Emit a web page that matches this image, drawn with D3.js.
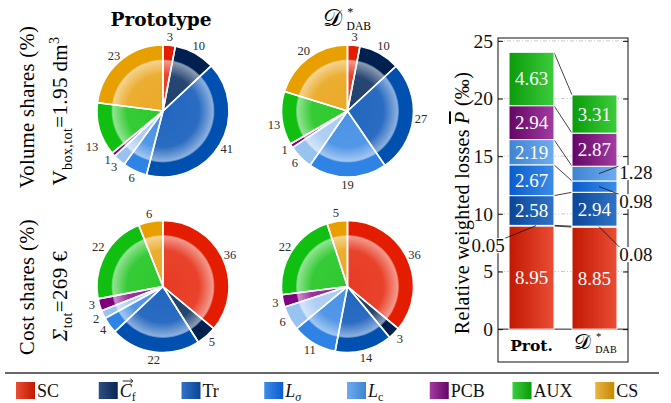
<!DOCTYPE html>
<html><head><meta charset="utf-8">
<script src="https://cdn.jsdelivr.net/npm/d3@7/dist/d3.min.js"></script>
<style>
body{margin:0;background:#fff;}
</style></head><body>
<svg id="chart" width="671" height="403"></svg>
<script>
// Components of the converter (shared by pies, bars and legend)
const components = ["SC", "Cf", "Tr", "Lsigma", "Lc", "PCB", "AUX", "CS"];

// Volume shares (%)
const volumeProt = [3, 10, 41, 6, 3, 1, 13, 23];
const volumeDab  = [3, 10, 27, 19, 6, 1, 13, 20];

// Cost shares (%)
const costProt = [36, 5, 22, 4, 2, 3, 22, 6];
const costDab  = [36, 3, 14, 11, 6, 3, 22, 5];

// Relative weighted losses (per mille), stacked bottom to top (SC … AUX)
const lossProt = [8.95, 0.05, 2.58, 2.67, 2.19, 2.94, 4.63];
const lossDab  = [8.85, 0.08, 2.94, 0.98, 1.28, 2.87, 3.31];

const designs = ["prot", "dab"];
const lossTicks = [0, 5, 10, 15, 20, 25];

// ---- styling ----
const SERIF = "'Liberation Serif','DejaVu Serif',serif";
const ringColor = {SC:"#e41c00", Cf:"#00214f", Tr:"#0050b0", Lsigma:"#2f83e4", Lc:"#98c2f0", PCB:"#7e007e", AUX:"#10bf10", CS:"#e8a000"};
const faceColor = {SC:"#e83b23", Cf:"#1e3f6d", Tr:"#2166bf", Lsigma:"#4b93e6", Lc:"#aacdf3", PCB:"#97289a", AUX:"#2ec92e", CS:"#ebaa28"};
const barDark   = {SC:"#c21801", Cf:"#0b2752", Tr:"#0a4597", Lsigma:"#0a5ccc", Lc:"#3f84d0", PCB:"#640564", AUX:"#0a9a0a", CS:"#c58800"};
const barLight  = {SC:"#ea4d35", Cf:"#2c4f82", Tr:"#3073c6", Lsigma:"#3c8ce8", Lc:"#6eacf0", PCB:"#a23ca2", AUX:"#3ccd3c", CS:"#ebb445"};

const svg = d3.select("#chart").attr("font-family", SERIF).style("font-family", SERIF);
const defs = svg.append("defs");

components.forEach(c => {
  const gb = defs.append("linearGradient").attr("id", "bar-" + c).attr("x1", 0).attr("x2", 1).attr("y1", 0).attr("y2", 0);
  gb.append("stop").attr("offset", 0).attr("stop-color", barDark[c]);
  gb.append("stop").attr("offset", 1).attr("stop-color", barLight[c]);
  const gl = defs.append("linearGradient").attr("id", "leg-" + c).attr("x1", 0).attr("x2", 1).attr("y1", 0).attr("y2", 0);
  gl.append("stop").attr("offset", 0).attr("stop-color", barLight[c]);
  gl.append("stop").attr("offset", 1).attr("stop-color", barDark[c]);
});

const gloss = defs.append("radialGradient").attr("id", "gloss");
[[0, 0], [0.7, 0.04], [0.9, 0.36], [0.97, 0.48], [1, 0.15]].forEach(([o, a]) =>
  gloss.append("stop").attr("offset", o).attr("stop-color", "#fff").attr("stop-opacity", a));

// ---- pies ----
const R = 66;
const pie = d3.pie().sort(null).value(d => d);
const arcOuter = d3.arc().innerRadius(0).outerRadius(R);
const arcFace = d3.arc().innerRadius(0).outerRadius(R * 0.78);
const arcLabel = d3.arc().innerRadius(74).outerRadius(74);

function drawPie(cx, cy, values, nudge) {
  const g = svg.append("g").attr("transform", `translate(${cx},${cy})`);
  const arcs = pie(values);
  g.selectAll("path.ring").data(arcs).join("path").attr("class", "ring")
    .attr("d", arcOuter).attr("fill", (d, i) => ringColor[components[i]]);
  g.selectAll("path.face").data(arcs).join("path").attr("class", "face")
    .attr("d", arcFace).attr("fill", (d, i) => faceColor[components[i]]);
  g.append("circle").attr("r", R * 0.78).attr("fill", "url(#gloss)");
  g.selectAll("path.edge").data(arcs).join("path").attr("class", "edge")
    .attr("d", arcOuter).attr("fill", "none").attr("stroke", "#fff")
    .attr("stroke-width", 1.6).attr("stroke-linejoin", "round");
  g.selectAll("text").data(arcs).join("text")
    .attr("x", d => arcLabel.centroid(d)[0])
    .attr("y", (d, i) => arcLabel.centroid(d)[1] + (nudge[i] || 0))
    .attr("text-anchor", "middle").attr("dominant-baseline", "central")
    .style("font-size", "12.5px").attr("fill", "#2a2a2a")
    .text(d => d.data);
}

const pieX = [163, 347.5], pieY = [111, 286.5];
drawPie(pieX[0], pieY[0], volumeProt, {6: 15});
drawPie(pieX[1], pieY[0], volumeDab, {6: 6});
drawPie(pieX[0], pieY[1], costProt, {4: 1, 5: -2, 6: -4});
drawPie(pieX[1], pieY[1], costDab, {});

// ---- column titles ----
svg.append("text").attr("x", 161).attr("y", 26).attr("text-anchor", "middle")
  .style("font-family", "'DejaVu Serif',serif").style("font-weight", "bold").style("font-size", "18.5px")
  .text("Prototype");

function dabLabel(sel, size) {
  sel.append("tspan").text("\u{1D49F}").style("font-size", size + "px")
    .style("font-family", "'DejaVu Sans','Noto Sans',serif");
  sel.append("tspan").text("*").attr("dx", size * 0.22).attr("dy", -size * 0.42).style("font-size", (size * 0.5) + "px");
  sel.append("tspan").text("DAB").attr("dx", -size * 0.28).attr("dy", size * 0.6).style("font-size", (size * 0.48) + "px");
}
dabLabel(svg.append("text").attr("x", 347).attr("y", 26).attr("text-anchor", "middle"), 24);

// ---- row labels ----
function rotLabel(x, y, size) {
  return svg.append("text").attr("transform", `translate(${x},${y}) rotate(-90)`)
    .attr("text-anchor", "middle").style("font-size", size + "px").style("letter-spacing", "0.4px");
}
rotLabel(34, 107, 20.5).text("Volume shares (%)");
const vl = rotLabel(67, 111, 21);
vl.append("tspan").text("V");
vl.append("tspan").text("box,tot").attr("dy", 5).style("font-size", "14px");
vl.append("tspan").text("=1.95 dm").attr("dy", -5);
vl.append("tspan").text("3").attr("dy", -8).style("font-size", "14px");
rotLabel(34, 287, 20.5).text("Cost shares (%)");
const sl = rotLabel(67, 296, 21);
sl.append("tspan").text("\u03A3").style("font-style", "italic");
sl.append("tspan").text("tot").attr("dy", 5).style("font-size", "14px");
sl.append("tspan").text("=269 \u20AC").attr("dy", -5);

// ---- stacked loss bars ----
const bx0 = 498, bx1 = 628, by0 = 38, by1 = 362;
const y = d3.scaleLinear().domain([-2.85, 25.25]).range([by1, by0]);
const x = d3.scaleBand().domain(designs).range([bx0, bx1]).paddingInner(0.286).paddingOuter(0.175);
const bw = x.bandwidth();

const gridG = svg.append("g");
lossTicks.forEach(t => {
  gridG.append("line").attr("x1", bx0).attr("x2", bx1).attr("y1", y(t)).attr("y2", y(t))
    .attr("stroke", t === 0 ? "#222" : "#c4c4c4").attr("stroke-width", t === 0 ? 1 : 0.9)
    .attr("stroke-dasharray", t === 0 ? null : "4,2,1,2");
});

const lossData = {prot: lossProt, dab: lossDab};
const stacks = {};
designs.forEach(dz => {
  let acc = 0;
  stacks[dz] = lossData[dz].map((v, i) => { const s = {comp: components[i], v, y0: acc, y1: acc + v}; acc += v; return s; });
});

// connecting lines between the segment tops of both designs
const linkG = svg.append("g");
stacks.prot.forEach((s, i) => {
  linkG.append("line")
    .attr("x1", x("prot") + bw).attr("y1", y(s.y1))
    .attr("x2", x("dab")).attr("y2", y(stacks.dab[i].y1))
    .attr("stroke", "#111").attr("stroke-width", 0.8);
});

const barG = svg.append("g");
designs.forEach(dz => {
  barG.selectAll(null).data(stacks[dz]).join("rect")
    .attr("x", x(dz)).attr("width", bw)
    .attr("y", d => y(d.y1)).attr("height", d => y(d.y0) - y(d.y1))
    .attr("fill", d => `url(#bar-${d.comp})`).attr("stroke", "#fff").attr("stroke-width", 1);
  barG.selectAll(null).data(stacks[dz].filter(d => d.v >= 1.5)).join("text")
    .attr("x", x(dz) + bw / 2).attr("y", d => y((d.y0 + d.y1) / 2))
    .attr("text-anchor", "middle").attr("dominant-baseline", "central")
    .attr("fill", "#fff").style("font-size", "19px")
    .text(d => d.v.toFixed(2));
});

// axes: inward ticks on both sides, frame around
svg.append("g").attr("transform", `translate(${bx0},0)`)
  .call(d3.axisLeft(y).tickValues(lossTicks).tickSizeInner(-5).tickSizeOuter(0).tickPadding(5))
  .call(g => g.attr("font-family", null).attr("font-size", null))
  .call(g => g.select(".domain").remove())
  .call(g => g.selectAll("text").style("font-family", SERIF).style("font-size", "19.5px").attr("fill", "#111"))
  .call(g => g.selectAll("line").attr("stroke", "#111"));
svg.append("g").attr("transform", `translate(${bx1},0)`)
  .call(d3.axisRight(y).tickValues(lossTicks).tickSizeInner(-5).tickSizeOuter(0).tickFormat(""))
  .call(g => g.select(".domain").remove())
  .call(g => g.selectAll("line").attr("stroke", "#111"));
svg.append("rect").attr("x", bx0).attr("y", by0).attr("width", bx1 - bx0).attr("height", by1 - by0)
  .attr("fill", "none").attr("stroke", "#111").attr("stroke-width", 1);

// small segments are labelled outside with leader lines
const outside = [
  {dz: "prot", i: 1, dy: 20},
  {dz: "dab", i: 1, dy: 28},
  {dz: "dab", i: 3, dy: 15},
  {dz: "dab", i: 4, dy: -1}
];
const outG = svg.append("g");
outside.forEach(o => {
  const s = stacks[o.dz][o.i];
  const ym = y((s.y0 + s.y1) / 2);
  const side = o.dz === "prot" ? -1 : 1;
  const lx = side < 0 ? x(o.dz) - 21 : x(o.dz) + bw + 19;
  const ly = ym + o.dy;
  outG.append("line")
    .attr("x1", x(o.dz) + bw * 0.6).attr("y1", ym)
    .attr("x2", lx - side * 16).attr("y2", ly - 7)
    .attr("stroke", "#111").attr("stroke-width", 0.8);
  const t = outG.append("text").attr("x", lx).attr("y", ly)
    .attr("text-anchor", "middle").attr("dominant-baseline", "central")
    .style("font-size", "19px").attr("fill", "#111").text(s.v.toFixed(2));
  const bb = t.node().getBBox();
  outG.insert("rect", () => t.node())
    .attr("x", bb.x - 1).attr("y", bb.y + 3).attr("width", bb.width + 2).attr("height", bb.height - 6).attr("fill", "#fff");
});

// category labels inside the frame
svg.append("text").attr("x", x("prot") + bw / 2).attr("y", 351).attr("text-anchor", "middle")
  .style("font-family", "'DejaVu Serif',serif").style("font-weight", "bold").style("font-size", "15.5px").text("Prot.");
dabLabel(svg.append("text").attr("x", x("dab") + bw / 2 + 1).attr("y", 349).attr("text-anchor", "middle"), 21);

// y label of the bar chart
const yl = svg.append("text").attr("transform", `translate(469,203) rotate(-90)`)
  .attr("text-anchor", "middle").style("font-size", "20px").style("letter-spacing", "0.3px");
yl.append("tspan").text("Relative weighted losses ");
yl.append("tspan").text("P").style("font-style", "italic").style("text-decoration", "overline");
yl.append("tspan").text(" (\u2030)");

// ---- legend ----
svg.append("line").attr("x1", 5).attr("x2", 659).attr("y1", 373).attr("y2", 373)
  .attr("stroke", "#333").attr("stroke-width", 1.3);
const lx = d3.scaleBand().domain(components).range([16, 678]);
const legG = svg.append("g");
components.forEach(c => {
  legG.append("rect").attr("x", lx(c)).attr("y", 382).attr("width", 19).attr("height", 17)
    .attr("fill", `url(#leg-${c})`);
  const t = legG.append("text").attr("x", lx(c) + 21).attr("y", 397).style("font-size", "18px").attr("fill", "#111");
  if (c === "Cf") {
    t.append("tspan").text("C").style("font-style", "italic");
    t.append("tspan").text("f").attr("dy", 4).style("font-size", "12px");
    // vector arrow above the C
    const ax = lx(c) + 24, ay = 381;
    legG.append("path")
      .attr("d", `M${ax},${ay}H${ax + 10}M${ax + 7.5},${ay - 2.5}L${ax + 10},${ay}L${ax + 7.5},${ay + 2.5}`)
      .attr("fill", "none").attr("stroke", "#111").attr("stroke-width", 0.9);
  } else if (c === "Lsigma") {
    t.append("tspan").text("L").style("font-style", "italic");
    t.append("tspan").text("\u03C3").attr("dy", 4).style("font-size", "12px").style("font-style", "italic");
  } else if (c === "Lc") {
    t.append("tspan").text("L").style("font-style", "italic");
    t.append("tspan").text("c").attr("dy", 4).style("font-size", "12px");
  } else {
    t.text(c);
  }
});
</script>
</body></html>
